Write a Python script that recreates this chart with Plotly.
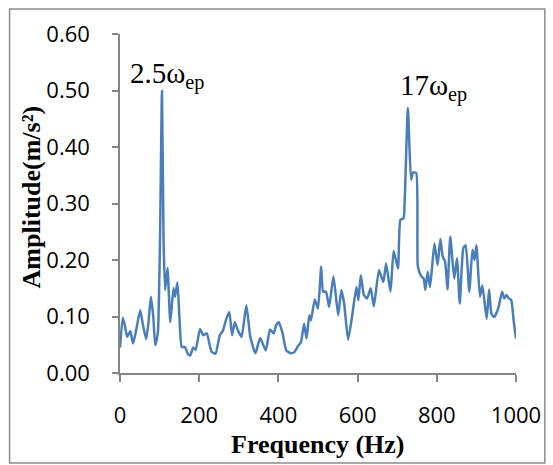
import plotly.graph_objects as go

freq = [0, 7, 12, 18, 26, 33, 42, 51, 58, 66, 72, 78, 84, 89, 93, 96, 101, 106, 110, 114,
        120, 127, 135, 139, 145, 150, 156, 164, 171, 177, 185, 191, 202, 210, 219, 231, 241,
        252, 260, 268, 276, 283, 290, 298, 307, 319, 329, 342, 354, 368, 379, 388, 394, 401,
        410, 420, 432, 440, 449, 457, 465, 471, 478, 482, 492, 500, 508, 513, 520, 528, 539,
        551, 559, 566, 576, 587, 597, 602, 608, 616, 624, 633, 641, 654, 665, 672, 683, 691,
        702, 708, 716, 719, 727, 735, 740, 748, 752, 760, 767, 771, 777, 783, 794, 802, 809,
        815, 821, 827, 834, 844, 851, 858, 867, 873, 882, 890, 895, 900, 909, 915, 926, 932,
        938, 945, 955, 965, 970, 976, 982, 988, 994, 1000]
amp = [0.045, 0.098, 0.085, 0.064, 0.074, 0.052, 0.080, 0.111, 0.085, 0.060, 0.090, 0.135,
       0.100, 0.049, 0.060, 0.075, 0.235, 0.499, 0.235, 0.147, 0.186, 0.090, 0.150, 0.135,
       0.160, 0.100, 0.046, 0.046, 0.034, 0.031, 0.045, 0.041, 0.078, 0.067, 0.070, 0.038,
       0.034, 0.067, 0.075, 0.095, 0.108, 0.067, 0.090, 0.075, 0.064, 0.120, 0.064, 0.035,
       0.062, 0.040, 0.077, 0.070, 0.084, 0.090, 0.072, 0.040, 0.035, 0.037, 0.047, 0.055,
       0.087, 0.061, 0.102, 0.093, 0.130, 0.114, 0.188, 0.144, 0.144, 0.117, 0.171, 0.102,
       0.147, 0.123, 0.059, 0.105, 0.152, 0.129, 0.173, 0.138, 0.132, 0.150, 0.118, 0.182,
       0.161, 0.194, 0.144, 0.216, 0.185, 0.271, 0.274, 0.306, 0.469, 0.342, 0.355, 0.354,
       0.190, 0.172, 0.167, 0.147, 0.179, 0.152, 0.229, 0.191, 0.237, 0.206, 0.197, 0.148,
       0.241, 0.167, 0.203, 0.123, 0.221, 0.226, 0.144, 0.218, 0.200, 0.226, 0.135, 0.155,
       0.096, 0.148, 0.105, 0.099, 0.114, 0.144, 0.132, 0.138, 0.132, 0.129, 0.093, 0.061]

x_ticks = [0, 200, 400, 600, 800, 1000]
y_ticks = [0.0, 0.1, 0.2, 0.3, 0.4, 0.5, 0.6]
y_tick_text = ["0.00", "0.10", "0.20", "0.30", "0.40", "0.50", "0.60"]

W, H = 553, 465
ML, MR, MT, MB = 120, 35, 34, 92
PW, PH = W - ML - MR, H - MT - MB


def px_to_paper_x(px):
    return (px - ML) / PW


def px_to_paper_y(py):
    return (H - MB - py) / PH


fig = go.Figure()
fig.add_trace(go.Scatter(
    x=freq, y=amp, mode="lines",
    line=dict(color="#4A7EBB", width=2.5, shape="spline", smoothing=0.5),
    showlegend=False, hoverinfo="skip",
))

axis_col = "#868686"
tick_font = dict(family="Open Sans", size=22, color="#000000")

fig.update_layout(
    width=W, height=H,
    margin=dict(l=ML, r=MR, t=MT, b=MB, pad=0),
    paper_bgcolor="white", plot_bgcolor="white",
    xaxis=dict(
        range=[0, 1000], tickvals=x_ticks, ticktext=[str(v) for v in x_ticks],
        showgrid=False, zeroline=False, showline=True, linecolor=axis_col, linewidth=1.5,
        ticks="outside", ticklen=7, tickcolor=axis_col, tickwidth=1.5,
        tickfont=tick_font, ticklabelstandoff=15,
    ),
    yaxis=dict(
        range=[0, 0.6], tickvals=y_ticks, ticktext=y_tick_text,
        showgrid=False, zeroline=False, showline=True, linecolor=axis_col, linewidth=1.5,
        ticks="outside", ticklen=6, tickcolor=axis_col, tickwidth=1.5,
        tickfont=tick_font, ticklabelstandoff=18,
    ),
    shapes=[dict(
        type="rect", xref="paper", yref="paper",
        x0=px_to_paper_x(9), x1=px_to_paper_x(547),
        y0=px_to_paper_y(463), y1=px_to_paper_y(9),
        line=dict(color="#8c8c8c", width=1.5), fillcolor="rgba(0,0,0,0)", layer="below",
    )],
    annotations=[
        dict(text="2.5ω<sub>ep</sub>", x=20, y=0.527, xref="x", yref="y",
             xanchor="left", yanchor="middle", showarrow=False,
             font=dict(family="Liberation Serif", size=29, color="#000000")),
        dict(text="17ω<sub>ep</sub>", x=703, y=0.505, xref="x", yref="y",
             xanchor="left", yanchor="middle", showarrow=False,
             font=dict(family="Liberation Serif", size=29, color="#000000")),
        dict(text="<b>Frequency (Hz)</b>", x=0.5, y=px_to_paper_y(445),
             xref="paper", yref="paper", xanchor="center", yanchor="middle",
             showarrow=False,
             font=dict(family="Liberation Serif", size=26, color="#000000")),
        dict(text="<b>Amplitude(m/s²)</b>", x=px_to_paper_x(31), y=px_to_paper_y(197),
             xref="paper", yref="paper", xanchor="center", yanchor="middle",
             textangle=-90, showarrow=False,
             font=dict(family="Liberation Serif", size=26, color="#000000")),
    ],
)

fig.write_html("out.html")
